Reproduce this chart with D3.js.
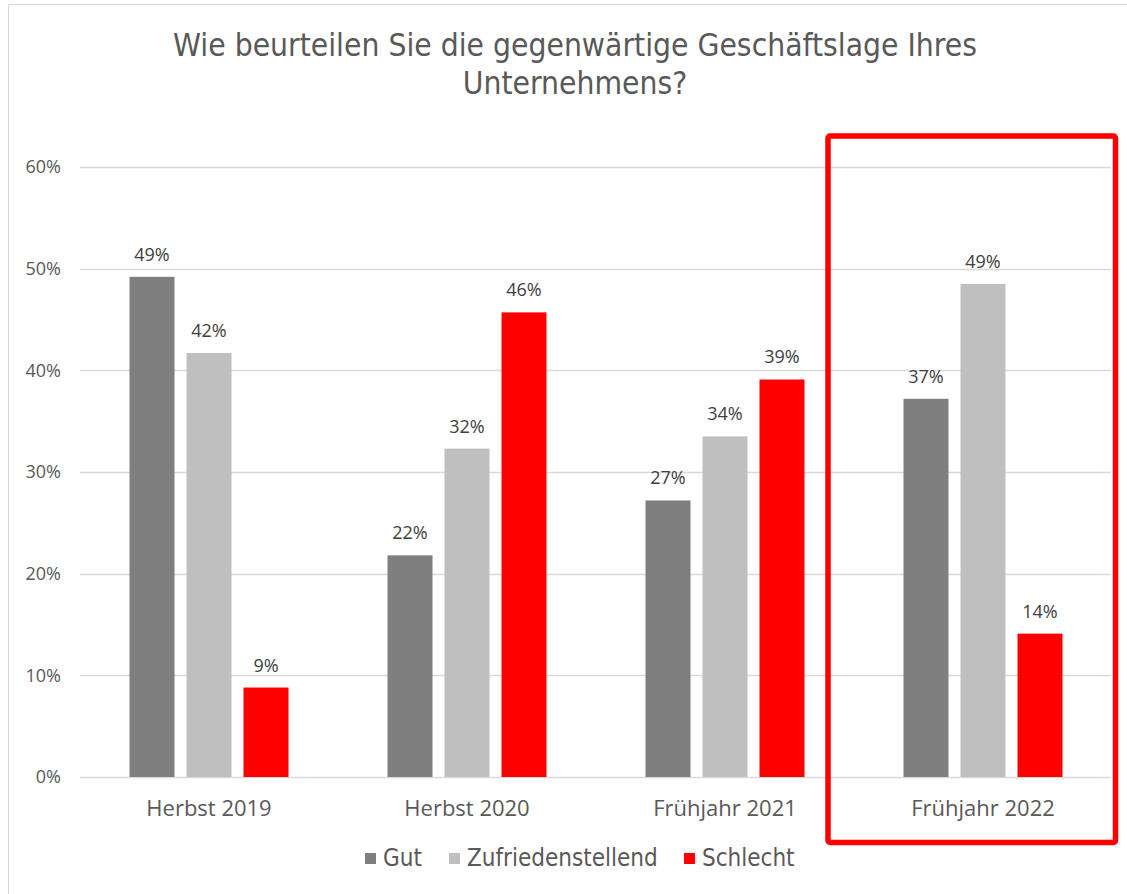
<!DOCTYPE html>
<html><head><meta charset="utf-8">
<script src="https://cdn.jsdelivr.net/npm/d3@7"></script>
<style>body{margin:0;background:#fff;} svg{display:block;} text{font-family:"DejaVu Sans Condensed","DejaVu Sans",sans-serif;}</style>
</head><body><svg id="c" width="1127" height="894"></svg>
<script>
const categories = ["Herbst 2019","Herbst 2020","Frühjahr 2021","Frühjahr 2022"];
const seriesNames = ["Gut","Zufriedenstellend","Schlecht"];
const gut = [49.2, 21.8, 27.2, 37.2];
const zufrieden = [41.7, 32.3, 33.5, 48.5];
const schlecht = [8.8, 45.7, 39.1, 14.1];
const labelsGut = ["49%","22%","27%","37%"];
const labelsZuf = ["42%","32%","34%","49%"];
const labelsSch = ["9%","46%","39%","14%"];
const yTicks = [0,10,20,30,40,50,60];
const colors = ["#7f7f7f","#bfbfbf","#ff0000"];

const series = [gut, zufrieden, schlecht];
const labels = [labelsGut, labelsZuf, labelsSch];
const svg = d3.select("#c");
const OPEN = '"Open Sans","DejaVu Sans",sans-serif';
const COND = '"DejaVu Sans Condensed","DejaVu Sans",sans-serif';

// chart border
svg.append("rect").attr("x",8.5).attr("y",4.5).attr("width",1130).attr("height",900)
  .attr("fill","none").attr("stroke","#d9d9d9").attr("stroke-width",1);

const x0 = d3.scaleBand().domain(categories).range([80,1112]).paddingInner(0).paddingOuter(0);
const x1 = d3.scaleBand().domain(seriesNames).range([0,159]).paddingInner(12/57);
const y = d3.scaleLinear().domain([0,60]).range([777,167]);

// title
const title = svg.append("text").attr("text-anchor","middle").attr("fill","#595959")
  .style("font-family",COND).style("font-size","31.5px");
title.append("tspan").attr("x",575).attr("y",56).text("Wie beurteilen Sie die gegenwärtige Geschäftslage Ihres");
title.append("tspan").attr("x",575).attr("y",94).text("Unternehmens?");

// gridlines
svg.append("g").selectAll("line").data(yTicks).join("line")
  .attr("x1",80).attr("x2",1111).attr("y1",d=>Math.round(y(d))+0.5).attr("y2",d=>Math.round(y(d))+0.5)
  .attr("stroke","#d9d9d9").attr("stroke-width",1.5);

// y axis labels
const yAxis = d3.axisLeft(y).tickValues(yTicks).tickFormat(d=>d+"%").tickSize(0).tickPadding(0);
const ga = svg.append("g").attr("transform","translate(61,0)").call(yAxis);
ga.select(".domain").remove();
ga.selectAll("text").attr("fill","#595959").style("font-size","18px").style("font-family",OPEN);

// bars
const groups = svg.append("g").selectAll("g").data(categories).join("g")
  .attr("transform",d=>`translate(${x0(d)+(x0.bandwidth()-159)/2},0)`);
groups.each(function(cat,ci){
  const g = d3.select(this);
  seriesNames.forEach((s,si)=>{
    const v = series[si][ci];
    g.append("rect").attr("x",x1(s)).attr("width",x1.bandwidth())
      .attr("y",y(v)).attr("height",y(0)-y(v)).attr("fill",colors[si]);
    g.append("text").attr("x",x1(s)+x1.bandwidth()/2).attr("y",y(v)-16)
      .attr("text-anchor","middle").attr("fill","#404040").style("font-size","18px")
      .style("font-family",OPEN).text(labels[si][ci]);
  });
});

// x axis labels
const xAxis = d3.axisBottom(x0).tickSize(0).tickPadding(0);
const gx = svg.append("g").attr("transform","translate(0,816)").call(xAxis);
gx.select(".domain").remove();
gx.selectAll("text").attr("fill","#595959").style("font-size","22px").attr("dy","0").style("font-family",OPEN);

// legend
const legX = [365, 449, 684];
const lg = svg.append("g");
seriesNames.forEach((s,i)=>{
  lg.append("rect").attr("x",legX[i]).attr("y",853).attr("width",11).attr("height",11).attr("fill",colors[i]);
  lg.append("text").attr("x",legX[i]+18).attr("y",866).attr("fill","#595959")
    .style("font-family",COND).style("font-size","24px").text(s);
});

// highlight box
svg.append("rect").attr("x",828).attr("y",136).attr("width",287.5).attr("height",706.5)
  .attr("rx",2).attr("fill","none").attr("stroke","#ff0000").attr("stroke-width",5.5);
</script></body></html>
